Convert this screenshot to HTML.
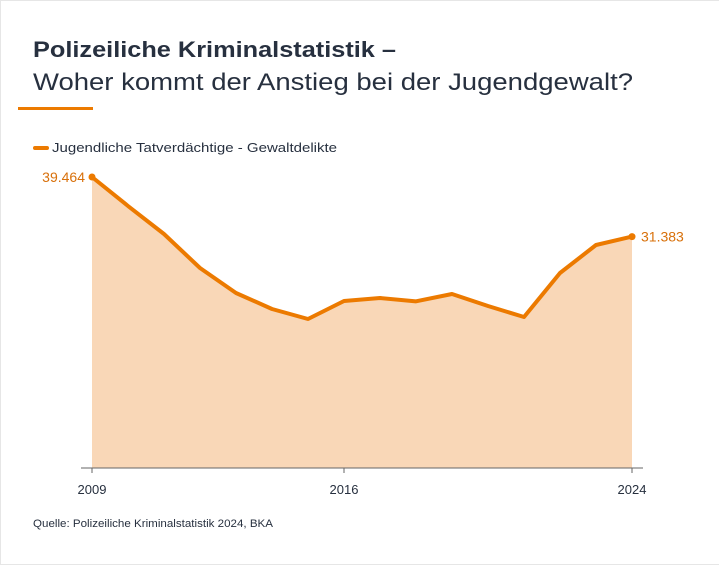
<!DOCTYPE html>
<html><head><meta charset="utf-8"><style>
body{margin:0;width:720px;height:565px;background:#fff;font-family:"Liberation Sans",sans-serif;overflow:hidden}
#wrap{position:absolute;left:0;top:0;width:718px;height:563px;border:1px solid #e6e6e6;border-right:none}
</style></head><body>
<div id="wrap">
<svg width="720" height="565">
<text x="32" y="56" font-size="22" font-weight="bold" fill="#27303f" textLength="363" lengthAdjust="spacingAndGlyphs">Polizeiliche Kriminalstatistik –</text>
<text x="32" y="89" font-size="24" fill="#27303f" textLength="600" lengthAdjust="spacingAndGlyphs">Woher kommt der Anstieg bei der Jugendgewalt?</text>
<rect x="17" y="106" width="75" height="3" fill="#ec7a00"/>
<line x1="34" y1="147" x2="46" y2="147" stroke="#ec7a00" stroke-width="4" stroke-linecap="round"/>
<text x="51" y="151" font-size="13" fill="#27303f" textLength="285" lengthAdjust="spacingAndGlyphs">Jugendliche Tatverdächtige - Gewaltdelikte</text>
<g id="plot"></g>
<text x="32" y="526" font-size="11" fill="#27303f" textLength="240" lengthAdjust="spacingAndGlyphs">Quelle: Polizeiliche Kriminalstatistik 2024, BKA</text>
</svg></div>
<script>
const years=[2009,2010,2011,2012,2013,2014,2015,2016,2017,2018,2019,2020,2021,2022,2023,2024];
const values=[39464,35531,31734,27123,23733,21563,20207,22648,23054,22600,23597,21970,20478,26445,30242,31383];
const tickYears=[2009,2016,2024];
const x0=91,x1=631,base=467,top0=176;
const xs=y=>x0+(y-2009)/(2024-2009)*(x1-x0);
const ys=v=>base-v/39464*(base-top0);
const ns='http://www.w3.org/2000/svg',g=document.getElementById('plot');
function mk(t,a){const e=document.createElementNS(ns,t);for(const k in a)e.setAttribute(k,a[k]);g.appendChild(e);return e;}
const pts=years.map((y,i)=>xs(y)+','+ys(values[i])).join(' ');
let e=mk('polygon',{points:xs(years[0])+','+base+' '+pts+' '+xs(years[years.length-1])+','+base,fill:'#f9d7b7'});


e=mk('line',{x1:80,x2:642,y1:base,y2:base,stroke:'#666','stroke-width':1});


tickYears.forEach(t=>{
 let l=mk('line',{x1:xs(t),x2:xs(t),y1:base,y2:base+5,stroke:'#666'});
 
 
 let tx=mk('text',{x:xs(t),y:base+26,'font-size':13,fill:'#27303f','text-anchor':'middle'});
 tx.textContent=t;
 
 
});
e=mk('polyline',{points:pts,fill:'none',stroke:'#ec7a00','stroke-width':4,'stroke-linejoin':'round','stroke-linecap':'round'});


const fmt=v=>String(v).replace(/\B(?=(\d{3})+(?!\d))/g,'.');
[[0,-7,'end'],[years.length-1,9,'start']].forEach(([i,dx,anc])=>{
 let c=mk('circle',{cx:xs(years[i]),cy:ys(values[i]),r:3.5,fill:'#ec7a00'});
 
 
 let t=mk('text',{x:xs(years[i])+dx,y:ys(values[i])+5,'font-size':14,fill:'#d8700a','text-anchor':anc});
 t.textContent=fmt(values[i]);
 
 
});
</script>
</body></html>
